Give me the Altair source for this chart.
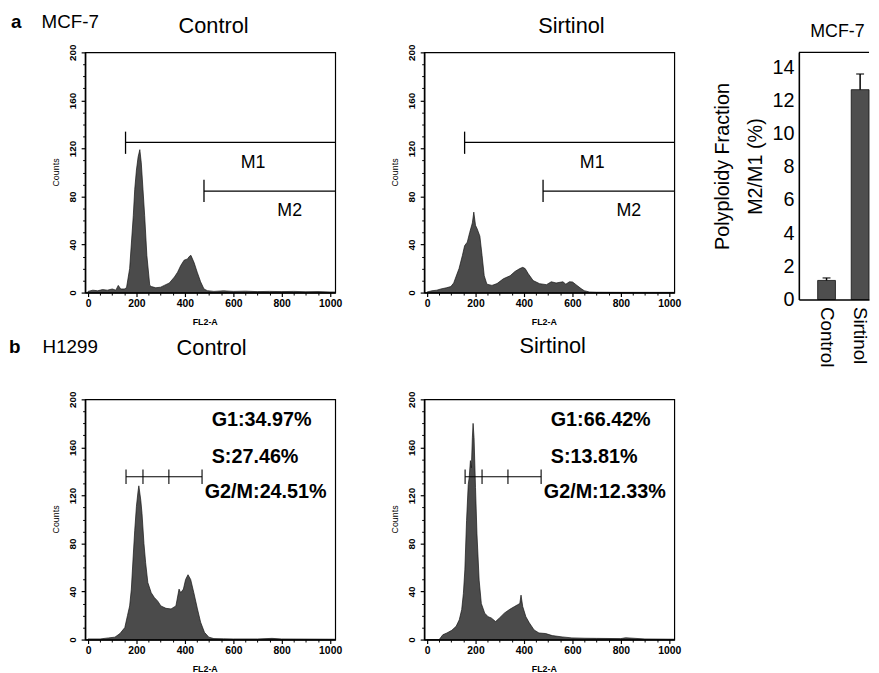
import altair as alt
import pandas as pd

FONT = "Liberation Sans"

# ---------------- data ----------------
# Panel a, MCF-7 Control histogram (FL2-A channel, counts)
A_CTRL_FL2 = [0, 20, 40, 60, 80, 100, 115, 125, 135, 150, 159, 172, 187, 193, 200, 207, 214,
              220, 227, 234, 243, 255, 262, 280, 300, 315, 336, 357, 370, 383, 397, 411, 418,
              425, 438, 451, 465, 479, 493, 520, 560, 600, 650, 700, 750, 800, 850, 900, 950, 1000, 1020]
A_CTRL_CNT = [1, 2, 1.5, 2.5, 2, 3, 2, 6, 3, 3, 4, 20, 64, 86, 102, 113, 119,
              108, 86, 64, 31, 6, 5, 4, 4.5, 6, 8, 13, 17, 22.5, 27, 28, 30,
              31, 25, 17, 9, 3, 1.6, 1, 1.5, 1, 1.2, 0.8, 1, 0.8, 1, 0.7, 0.8, 0.5, 0.5]

# Panel a, MCF-7 Sirtinol histogram
A_SIRT_FL2 = [0, 20, 40, 57, 80, 98, 110, 119, 132, 146, 155, 166, 176, 187, 193, 200, 207,
              218, 227, 236, 247, 268, 289, 315, 343, 363, 383, 395, 405, 418, 438, 465, 493,
              513, 533, 561, 573, 588, 601, 615, 636, 649, 670, 700, 800, 1020]
A_SIRT_CNT = [0.5, 1.5, 2, 3, 4, 5, 8, 13, 20, 31, 39, 42, 50, 58, 67, 56, 53,
              47, 31, 14, 7, 6, 7.5, 11.5, 14, 17.6, 20, 21, 20, 15.7, 10, 7.4, 6.6,
              9, 8, 9, 7, 9, 8.8, 6.6, 3.3, 1.6, 0.5, 0.3, 0.2, 0.2]

# Panel b, H1299 Control histogram
B_CTRL_FL2 = [0, 50, 85, 111, 132, 152, 163, 172, 179, 186, 193, 200, 207, 210, 218, 223, 231,
              238, 247, 261, 274, 288, 301, 322, 343, 363, 376, 383, 394, 403, 413, 424, 437,
              452, 465, 481, 499, 520, 560, 600, 700, 760, 800, 1020]
B_CTRL_CNT = [0.5, 0.5, 1.4, 2, 5, 10, 20, 28, 42, 67, 91, 111, 124, 128, 116, 105, 80,
              64, 47.5, 39, 35, 32, 28, 26, 25.5, 28, 42, 39, 42, 50, 54, 50, 39,
              25.5, 14.5, 6, 2, 0.8, 0.6, 0.5, 0.5, 1, 0.5, 0.3]

# Panel b, H1299 Sirtinol histogram
B_SIRT_FL2 = [0, 50, 65, 82, 102, 120, 133, 143, 150, 156, 163, 170, 174, 179, 183, 187, 190,
              194, 200, 206, 215, 224, 238, 252, 265, 283, 299, 319, 340, 361, 374, 383, 388,
              395, 408, 422, 442, 462, 490, 517, 558, 598, 652, 700, 800, 820, 900, 1020]
B_SIRT_CNT = [0, 0, 4, 5.5, 7.7, 11, 16.5, 25, 38.5, 58, 99, 129, 135, 149, 143, 168, 180,
              168, 126.5, 88, 49.5, 30, 22, 19, 18, 15, 18, 22, 25, 27.5, 29, 30, 37,
              27.5, 19, 14, 8, 5.5, 5, 3.3, 2.2, 1.4, 1.1, 1, 0.8, 1.5, 0.5, 0.3]

# Markers (FL2 / counts units)
M_NAMES = ["M1", "M2"]
M_START = [155, 479]
M_END = [1021, 1021]
M_LEVEL = [125, 84.5]
M_TICK_LOW = [115.5, 75.5]
M_TICK_HIGH = [134, 94]
M_LABEL_X = [682, 833]
M_LABEL_Y = [107.8, 67.5]

GATE_TICKS = [157, 227, 334, 471]
GATE_LEVEL = 135.5
GATE_LOW, GATE_HIGH = 129.5, 141.5

PHASES_CTRL = ["G1:34.97%", "S:27.46%", "G2/M:24.51%"]
PHASES_SIRT = ["G1:66.42%", "S:13.81%", "G2/M:12.33%"]

# Bar chart: polyploidy fraction M2/M1 (%)
BAR_GROUPS = ["Control", "Sirtinol"]
BAR_VALUES = [1.15, 12.65]
BAR_ERRORS = [0.15, 0.95]

X_TICKS = [0, 200, 400, 600, 800, 1000]
Y_TICKS = [0, 40, 80, 120, 160, 200]
X_MINOR = [v for v in range(50, 1001, 50) if v % 200 != 0]
Y_MINOR = [v for v in range(10, 200, 10) if v % 40 != 0]
BAR_Y_TICKS = [0, 2, 4, 6, 8, 10, 12, 14]

HW, HH = 253, 243
X_DOMAIN = [-12, 1021]
Y_DOMAIN = [0, 200]

# ---------------- helpers ----------------
def label(text, x, y, size, weight="normal", align="left", baseline="alphabetic"):
    return alt.Chart(pd.DataFrame({"t": [text]})).mark_text(
        font=FONT, fontSize=size, fontWeight=weight, align=align, baseline=baseline, color="black"
    ).encode(text="t:N", x=alt.value(x), y=alt.value(y))


def spacer(w, h=HH):
    return alt.Chart(pd.DataFrame({"v": [0]})).mark_rule(opacity=0).encode(
        x=alt.value(0), y=alt.value(0), y2=alt.value(1)
    ).properties(width=w, height=h, view=alt.ViewBackground(stroke="transparent"))


x_major = alt.Axis(values=X_TICKS, format="d", title="FL2-A", orient="bottom", grid=False,
                   labelFont=FONT, labelFontSize=10.5, labelFontWeight="bold", labelColor="black",
                   labelPadding=2, labelFlush=False, labelOverlap=False,
                   tickSize=4, tickColor="black", tickWidth=1.2,
                   domainColor="black", domainWidth=1.6,
                   titleFont=FONT, titleFontSize=9, titleFontWeight="bold", titleColor="black",
                   titleX=121, titleY=29, titleAlign="center", titleBaseline="middle", zindex=1)
y_major = alt.Axis(values=Y_TICKS, format="d", title="Counts", orient="left", grid=False,
                   labelFont=FONT, labelFontSize=10, labelFontWeight="bold", labelColor="black",
                   labelAngle=270, labelAlign="center", labelBaseline="alphabetic", labelPadding=5.5,
                   labelFlush=False, labelOverlap=False,
                   tickSize=4, tickColor="black", tickWidth=1.2,
                   domainColor="black", domainWidth=1.6,
                   titleFont=FONT, titleFontSize=9, titleFontWeight="normal", titleColor="black",
                   titleAngle=270, titleX=-30, titleY=121, titleAlign="center",
                   titleBaseline="middle", zindex=1)
x_minor = alt.Axis(values=X_MINOR, orient="bottom", labels=False, domain=False, grid=False,
                   tickSize=2.5, tickColor="black", tickWidth=1, title=None, zindex=1)
y_minor = alt.Axis(values=Y_MINOR, orient="left", labels=False, domain=False, grid=False,
                   tickSize=2.5, tickColor="black", tickWidth=1, title=None, zindex=1)


def hist_panel(fl2, cnt, overlays):
    df = pd.DataFrame({"FL2": fl2, "Counts": cnt})
    xs = alt.Scale(domain=X_DOMAIN, nice=False, zero=False)
    ys = alt.Scale(domain=Y_DOMAIN, nice=False, zero=False)
    area = alt.Chart(df).mark_area(
        fill="#4b4b4b", stroke="#151515", strokeWidth=0.7, interpolate="linear"
    ).encode(x=alt.X("FL2:Q", scale=xs, axis=x_major),
             y=alt.Y("Counts:Q", scale=ys, axis=y_major))
    minor = alt.Chart(df).mark_point(opacity=0, size=1).encode(
        x=alt.X("FL2:Q", scale=xs, axis=x_minor),
        y=alt.Y("Counts:Q", scale=ys, axis=y_minor))
    return alt.layer(area, minor, *overlays).resolve_axis(
        x="independent", y="independent"
    ).properties(width=HW, height=HH,
                 view=alt.ViewBackground(stroke="black", strokeWidth=1.2))


def m_markers():
    mdf = pd.DataFrame({"name": M_NAMES, "start": M_START, "end": M_END, "level": M_LEVEL,
                        "lo": M_TICK_LOW, "hi": M_TICK_HIGH, "lx": M_LABEL_X, "ly": M_LABEL_Y})
    h = alt.Chart(mdf).mark_rule(color="black", strokeWidth=1.3).encode(
        x=alt.X("start:Q", axis=None), x2="end:Q", y=alt.Y("level:Q", axis=None))
    v = alt.Chart(mdf).mark_rule(color="black", strokeWidth=1.3).encode(
        x=alt.X("start:Q", axis=None), y=alt.Y("lo:Q", axis=None), y2="hi:Q")
    t = alt.Chart(mdf).mark_text(font=FONT, fontSize=18, align="center", baseline="middle",
                                 color="black").encode(
        x=alt.X("lx:Q", axis=None), y=alt.Y("ly:Q", axis=None), text="name:N")
    return [h, v, t]


def gate_markers(phases):
    gdf = pd.DataFrame({"pos": GATE_TICKS, "lo": [GATE_LOW] * 4, "hi": [GATE_HIGH] * 4})
    hdf = pd.DataFrame({"a": [GATE_TICKS[0]], "b": [GATE_TICKS[-1]], "y": [GATE_LEVEL]})
    h = alt.Chart(hdf).mark_rule(color="black", strokeWidth=1.1).encode(
        x=alt.X("a:Q", axis=None), x2="b:Q", y=alt.Y("y:Q", axis=None))
    v = alt.Chart(gdf).mark_rule(color="black", strokeWidth=1.1).encode(
        x=alt.X("pos:Q", axis=None), y=alt.Y("lo:Q", axis=None), y2="hi:Q")
    texts = [label(phases[0], 128, 27, 20, "bold"),
             label(phases[1], 128, 64, 20, "bold"),
             label(phases[2], 121, 100, 20, "bold")]
    return [h, v] + texts


# ---------------- panels ----------------
a_ctrl = hist_panel(A_CTRL_FL2, A_CTRL_CNT, m_markers() + [
    label("a", -75, -25, 19, "bold"),
    label("MCF-7", -44, -25, 19),
    label("Control", 130, -20, 22, align="center"),
])
a_sirt = hist_panel(A_SIRT_FL2, A_SIRT_CNT, m_markers() + [
    label("Sirtinol", 149, -20, 22, align="center"),
])
b_ctrl = hist_panel(B_CTRL_FL2, B_CTRL_CNT, gate_markers(PHASES_CTRL) + [
    label("b", -77, -47, 19, "bold"),
    label("H1299", -43, -47, 19),
    label("Control", 128, -45, 22, align="center"),
])
b_sirt = hist_panel(B_SIRT_FL2, B_SIRT_CNT, gate_markers(PHASES_SIRT) + [
    label("Sirtinol", 130, -47, 22, align="center"),
])

# bar chart
BW, BH = 71, 250
bar_df = pd.DataFrame({"group": BAR_GROUPS, "value": BAR_VALUES, "err": BAR_ERRORS})
bar_df["top"] = bar_df["value"] + bar_df["err"]
xb = alt.Scale(domain=BAR_GROUPS, paddingInner=0.47, paddingOuter=0.28, align=1)
yb = alt.Scale(domain=[0, 14.9], nice=False)
bar_x_axis = alt.Axis(title=None, labelAngle=90, labelAlign="left", labelBaseline="middle",
                      labelFont=FONT, labelFontSize=19, labelColor="black", labelPadding=7,
                      ticks=False, domainColor="black", domainWidth=1.6, zindex=1)
bar_y_axis = alt.Axis(values=BAR_Y_TICKS, grid=False, ticks=False,
                      labelFont=FONT, labelFontSize=20, labelColor="black", labelPadding=5,
                      labelOverlap=False, labelFlush=False,
                      domainColor="black", domainWidth=1.6,
                      title=["Polyploidy Fraction", "M2/M1 (%)"],
                      titleFont=FONT, titleFontSize=20, titleFontWeight="normal",
                      titleColor="black", titleAngle=270, titleX=-71, titleY=115,
                      titleAlign="center", titleBaseline="alphabetic", titleLineHeight=33,
                      zindex=1)
bx = alt.X("group:N", scale=xb, sort=BAR_GROUPS, axis=bar_x_axis)
bars = alt.Chart(bar_df).mark_bar(fill="#4e4e4e", stroke="#111111", strokeWidth=0.8).encode(
    x=bx, y=alt.Y("value:Q", scale=yb, axis=bar_y_axis))
err = alt.Chart(bar_df).mark_rule(color="black", strokeWidth=1.5).encode(
    x=bx, y=alt.Y("value:Q", scale=yb, axis=bar_y_axis), y2="top:Q")
caps = alt.Chart(bar_df).mark_tick(orient="horizontal", size=8, thickness=1.5, color="black").encode(
    x=bx, y=alt.Y("top:Q", scale=yb, axis=bar_y_axis))
top_line = alt.Chart(pd.DataFrame({"v": [0]})).mark_rule(color="black", strokeWidth=1.3).encode(
    x=alt.value(0), x2=alt.value(BW), y=alt.value(0))
bar_chart = alt.layer(bars, err, caps, top_line,
                      label("MCF-7", 39, -16, 18, align="center")).properties(
    width=BW, height=BH, view=alt.ViewBackground(stroke="transparent"))

chart = alt.concat(
    spacer(1), a_ctrl, spacer(85), a_sirt, spacer(126), bar_chart,
    spacer(3), b_ctrl, spacer(90), b_sirt,
    columns=6, spacing={"row": 101, "column": 0}, align="none", bounds="flush",
    padding={"left": 0, "top": 0, "right": 0, "bottom": 0},
).configure_view(stroke="transparent").configure(font=FONT, background="white")

chart.save("out.html", embed_options={"renderer": "svg", "actions": False})
